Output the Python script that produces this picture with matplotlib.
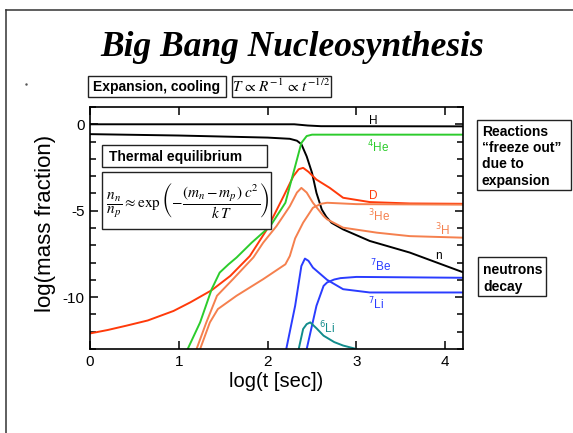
import matplotlib
matplotlib.use("Agg")
import matplotlib.pyplot as plt
from matplotlib.patches import Rectangle
from matplotlib.lines import Line2D
from matplotlib.ticker import MultipleLocator

plt.rcParams['axes.unicode_minus'] = False
plt.rcParams['font.family'] = ['Liberation Sans', 'DejaVu Sans']

W, H = 573, 433

# log(t [sec]) / log(mass fraction)
h_t = [0.0, 2.3, 2.45, 2.6, 4.2]
h_y = [0.0, 0.0, -0.07, -0.11, -0.12]

n_t = [0.0, 1.0, 2.0, 2.25, 2.33, 2.38, 2.44, 2.50, 2.55, 2.61, 2.66, 2.72, 2.85, 3.15, 3.6, 4.2]
n_y = [-0.57, -0.65, -0.77, -0.84, -0.95, -1.15, -1.86, -2.81, -3.97, -4.93, -5.35, -5.7,
       -6.08, -6.75, -7.42, -8.56]

he4_t = [1.10, 1.24, 1.37, 1.46, 1.56, 1.65, 1.82, 2.03, 2.20, 2.31, 2.38, 2.44, 2.50, 4.2]
he4_y = [-13.0, -11.46, -9.54, -8.58, -8.1, -7.71, -6.85, -5.89, -4.54, -2.43, -1.08, -0.68,
         -0.6, -0.6]

d_t = [0.0, 0.2, 0.41, 0.65, 0.94, 1.13, 1.37, 1.58, 1.80, 1.99, 2.18, 2.29, 2.35, 2.40, 2.46,
       2.55, 2.70, 2.85, 3.15, 3.6, 4.2]
d_y = [-12.1, -11.9, -11.65, -11.35, -10.8, -10.3, -9.6, -8.77, -7.62, -6.1, -4.16, -3.0, -2.6,
       -2.52, -2.75, -3.2, -3.68, -4.25, -4.5, -4.58, -4.6]

h3_t = [1.20, 1.31, 1.43, 1.61, 1.84, 1.95, 2.10, 2.25, 2.33, 2.38, 2.44, 2.51, 2.63, 2.67,
        2.85, 3.23, 3.6, 4.2]
h3_y = [-13.0, -11.46, -9.92, -8.96, -7.7, -6.85, -5.89, -4.74, -3.95, -3.68, -3.95, -4.54,
        -5.31, -5.5, -5.98, -6.27, -6.47, -6.56]

he3_t = [1.24, 1.35, 1.44, 1.65, 1.95, 2.20, 2.25, 2.31, 2.40, 2.51, 2.60, 2.67, 3.0, 4.2]
he3_y = [-13.0, -11.46, -10.69, -9.92, -8.96, -8.1, -7.62, -6.6, -5.69, -4.83, -4.6, -4.54,
         -4.62, -4.65]

li7_t = [2.21, 2.31, 2.38, 2.42, 2.46, 2.51, 2.67, 2.85, 3.15, 4.2]
li7_y = [-13.0, -10.5, -8.2, -7.77, -7.9, -8.29, -9.0, -9.54, -9.73, -9.73]

be7_t = [2.44, 2.55, 2.63, 2.67, 2.75, 2.82, 3.0, 4.2]
be7_y = [-13.0, -10.5, -9.35, -9.15, -8.98, -8.9, -8.83, -8.88]

li6_t = [2.35, 2.40, 2.44, 2.48, 2.55, 2.63, 2.75, 2.85, 3.0]
li6_y = [-13.0, -11.84, -11.56, -11.46, -11.8, -12.23, -12.6, -12.8, -13.0]

# curve labels: (text, x, y)
labels = [("H", 3.19, 0.2), ("$^{4}$He", 3.24, -1.3), ("D", 3.19, -4.17),
          ("$^{3}$He", 3.26, -5.3), ("$^{3}$H", 3.97, -6.1), ("n", 3.92, -7.6),
          ("$^{7}$Be", 3.27, -8.2), ("$^{7}$Li", 3.22, -10.4), ("$^{6}$Li", 2.67, -11.8)]

GREEN = '#2ccc2c'
RED = '#ff3a0a'
ORANGE = '#f5804e'
BLUE = '#2a3cff'
TEAL = '#128c8c'


def fx(px):
    return px / W


def fy(py):
    return 1 - py / H


fig = plt.figure(figsize=(W / 100, H / 100), dpi=100)
ax = fig.add_axes([fx(90), fy(349), (463 - 90) / W, (349 - 107) / H])

lw = 1.4
ax.plot(h_t, h_y, color='black', lw=lw)
ax.plot(n_t, n_y, color='black', lw=lw)
ax.plot(d_t, d_y, color=RED, lw=lw)
ax.plot(h3_t, h3_y, color=ORANGE, lw=lw)
ax.plot(he3_t, he3_y, color=ORANGE, lw=lw)
ax.plot(he4_t, he4_y, color=GREEN, lw=lw)
ax.plot(li7_t, li7_y, color=BLUE, lw=lw)
ax.plot(be7_t, be7_y, color=BLUE, lw=lw)
ax.plot(li6_t, li6_y, color=TEAL, lw=lw)

label_colors = ['black', GREEN, RED, ORANGE, ORANGE, 'black', BLUE, BLUE, TEAL]
for (txt, x, y), c in zip(labels, label_colors):
    ax.text(x, y, txt, color=c, fontsize=8.5, ha='center', va='center')

ax.set_xlim(0, 4.2)
ax.set_ylim(-13, 1)
ax.set_xticks([0, 1, 2, 3, 4])
ax.set_yticks([0, -5, -10])
ax.yaxis.set_minor_locator(MultipleLocator(1))
ax.tick_params(which='both', direction='in', top=True, right=True, width=1.1, labelsize=11, pad=4)
ax.tick_params(which='major', length=6)
ax.tick_params(which='minor', length=4)
for s in ax.spines.values():
    s.set_linewidth(1.2)

ax.set_xlabel("log(t [sec])", fontsize=14.5)
ax.xaxis.set_label_coords(0.5, -0.095)
ax.set_ylabel("log(mass fraction)", fontsize=16)
ax.yaxis.set_label_coords(-0.09, 0.52)

# outer frame
fig.add_artist(Line2D([fx(6), fx(6)], [0, fy(10)], color='#333333', lw=1.1))
fig.add_artist(Line2D([fx(6), 1], [fy(10), fy(10)], color='#333333', lw=1.1))
fig.add_artist(Line2D([fx(26)], [fy(84)], marker='.', markersize=1.5, color='#555555'))

fig.text(fx(292), fy(47), "Big Bang Nucleosynthesis", family='Liberation Serif',
         weight='bold', style='italic', fontsize=25.5, ha='center', va='center')


def box(x0, y0, x1, y1):
    fig.add_artist(Rectangle((fx(x0), fy(y1)), (x1 - x0) / W, (y1 - y0) / H,
                             transform=fig.transFigure, facecolor='white',
                             edgecolor='#222222', lw=1.0, zorder=5))


box(88, 76, 226, 97)
fig.text(fx(157), fy(87), "Expansion, cooling", weight='bold', fontsize=10,
         ha='center', va='center', zorder=6)
box(232, 76, 331, 97)
fig.text(fx(281.5), fy(86.5), r"$T\,\propto\,R^{-1}\,\propto\,t^{-1/2}$", math_fontfamily='stix',
         fontsize=11, ha='center', va='center', zorder=6)

box(102, 145, 267, 167)
fig.text(fx(109), fy(156.5), "Thermal equilibrium", weight='bold', fontsize=10,
         ha='left', va='center', zorder=6)
box(102, 172, 271, 229)
fig.text(fx(187), fy(201),
         r"$\,\dfrac{n_n}{n_p} \approx \exp\left(-\dfrac{(m_n-m_p)\;c^2}{k\;T}\right)$",
         math_fontfamily='stix', fontsize=11, ha='center', va='center', zorder=6)

box(477, 120, 571, 190)
for i, line in enumerate(["Reactions", "\u201cfreeze out\u201d", "due to", "expansion"]):
    fig.text(fx(482), fy(132 + 16.2 * i), line, weight='bold', fontsize=10,
             ha='left', va='center', zorder=6)

box(478, 257, 546, 296)
for i, line in enumerate(["neutrons", "decay"]):
    fig.text(fx(483), fy(270 + 17 * i), line, weight='bold', fontsize=10,
             ha='left', va='center', zorder=6)

fig.savefig("out.png", dpi=100)
